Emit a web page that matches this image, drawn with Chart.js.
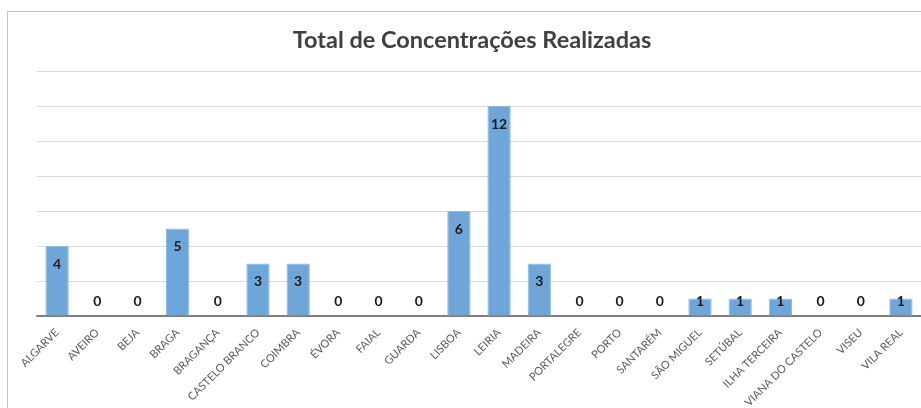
<!DOCTYPE html>
<html>
<head>
<meta charset="utf-8">
<script src="https://cdn.jsdelivr.net/npm/chart.js@4"></script>
<style>
  html, body { margin: 0; padding: 0; background: #ffffff; overflow: hidden; }
  #wrap { width: 921px; height: 408px; position: relative; overflow: hidden; }
  canvas { display: block; }
</style>
</head>
<body>
<div id="wrap"><canvas id="c" width="921" height="408"></canvas></div>
<script>
const chartTitle = "Total de Concentrações Realizadas";
const categories = ["ALGARVE", "AVEIRO", "BEJA", "BRAGA", "BRAGANÇA", "CASTELO BRANCO", "COIMBRA", "ÉVORA", "FAIAL", "GUARDA", "LISBOA", "LEIRIA", "MADEIRA", "PORTALEGRE", "PORTO", "SANTARÉM", "SÃO MIGUEL", "SETÚBAL", "ILHA TERCEIRA", "VIANA DO CASTELO", "VISEU", "VILA REAL"];
const values = [4, 0, 0, 5, 0, 3, 3, 0, 0, 0, 6, 12, 3, 0, 0, 0, 1, 1, 1, 0, 0, 1];
const yMin = 0, yMax = 14, yStep = 2;

const FONT = "Lato, 'Open Sans', sans-serif";

const framePlugin = {
  id: 'frame',
  beforeDraw(chart) {
    const ctx = chart.ctx;
    ctx.save();
    ctx.fillStyle = '#ffffff';
    ctx.fillRect(0, 0, chart.width, chart.height);
    // chart frame (left and top edges; right/bottom lie outside the view)
    ctx.fillStyle = '#c4c4c4';
    ctx.fillRect(7, 11, 1, chart.height - 11);
    ctx.fillRect(7, 11, chart.width - 7, 1);
    ctx.fillStyle = '#404040';
    ctx.font = "bold 23.5px " + FONT;
    ctx.textAlign = 'center';
    ctx.textBaseline = 'middle';
    ctx.fillText(chartTitle, 472, 40);
    ctx.restore();
  }
};

const labelPlugin = {
  id: 'valueLabels',
  afterDatasetsDraw(chart) {
    const ctx = chart.ctx;
    const meta = chart.getDatasetMeta(0);
    const base = chart.scales.y.getPixelForValue(0);
    ctx.save();
    ctx.fillStyle = '#1a1a1a';
    ctx.font = "bold 14px " + FONT;
    ctx.textAlign = 'center';
    ctx.textBaseline = 'middle';
    meta.data.forEach((bar, i) => {
      const yc = Math.min(bar.y + 18, base - 15);
      ctx.fillText(String(values[i]), bar.x, yc);
    });
    ctx.restore();
  }
};

new Chart(document.getElementById('c'), {
  type: 'bar',
  data: {
    labels: categories,
    datasets: [{
      data: values,
      backgroundColor: '#6FA6D9',
      borderColor: '#8DBAE3',
      borderWidth: 1,
      categoryPercentage: 1.0,
      barPercentage: 0.58
    }]
  },
  options: {
    responsive: false,
    animation: false,
    layout: { padding: { left: 37, right: 0, top: 71, bottom: 0 } },
    plugins: {
      legend: { display: false },
      title: { display: false },
      tooltip: { enabled: false }
    },
    scales: {
      x: {
        grid: { display: false },
        border: { display: true, color: '#7f7f7f', width: 1.5 },
        ticks: {
          color: '#595959',
          font: { family: FONT, size: 11 },
          maxRotation: 45,
          minRotation: 45,
          autoSkip: false,
          padding: 2
        },
        afterFit(scale) { scale.height = 92; }
      },
      y: {
        min: yMin,
        max: yMax,
        ticks: { stepSize: yStep, display: false },
        grid: {
          color: (c) => c.tick && c.tick.value === 0 ? '#7f7f7f' : '#d9d9d9',
          lineWidth: 1,
          drawTicks: false
        },
        border: { display: false },
        afterFit(scale) { scale.width = 0; }
      }
    }
  },
  plugins: [framePlugin, labelPlugin]
});
</script>
</body>
</html>
